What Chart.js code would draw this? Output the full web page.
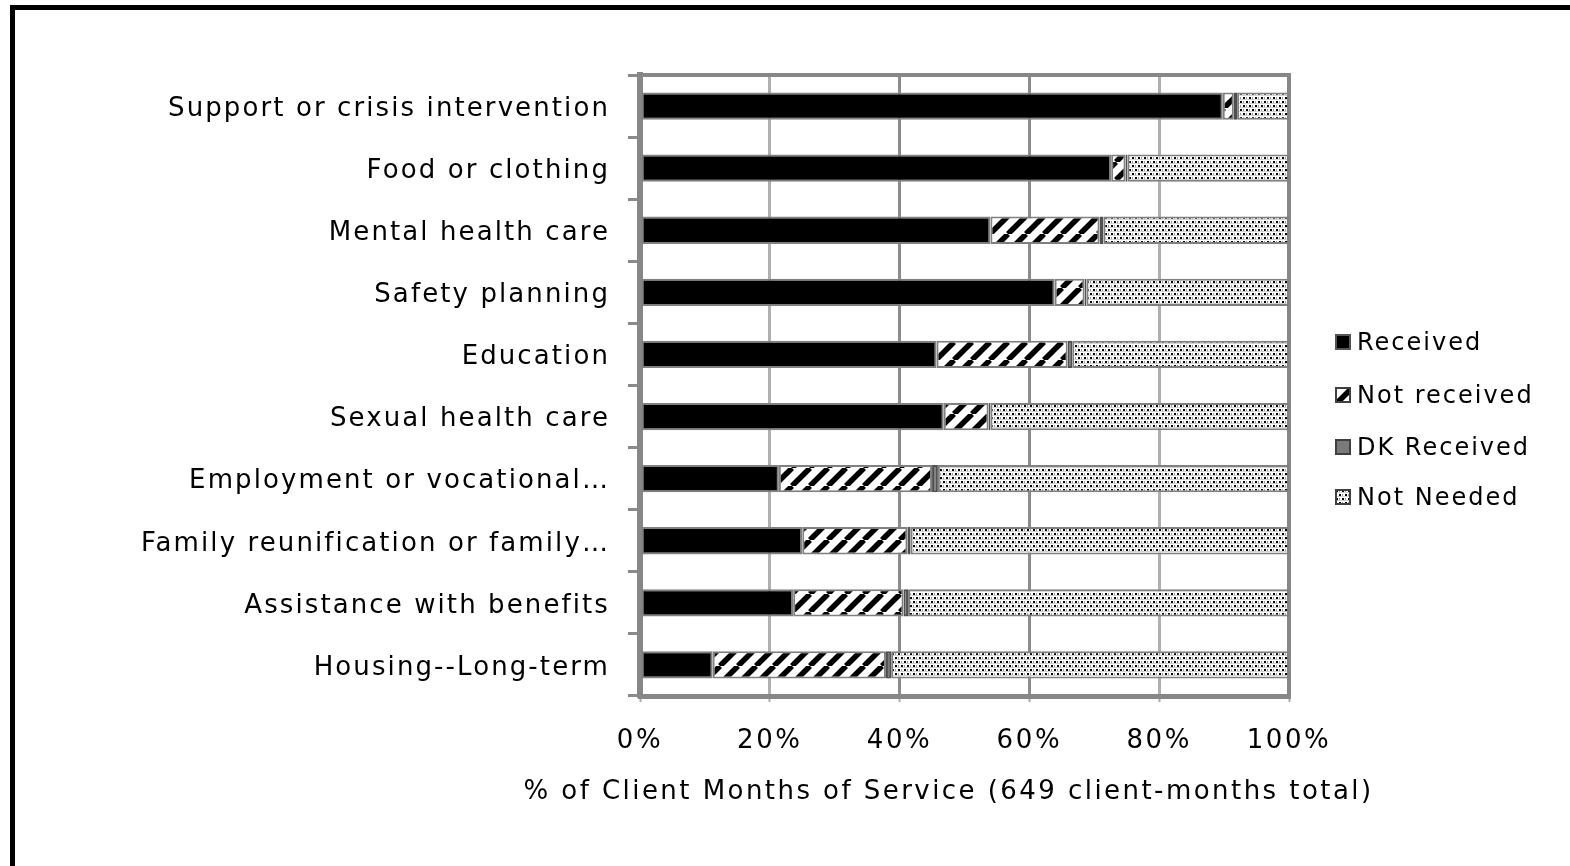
<!DOCTYPE html>
<html>
<head>
<meta charset="utf-8">
<script src="https://cdn.jsdelivr.net/npm/chart.js@4.4.1/dist/chart.umd.min.js"></script>
<style>
  html, body { margin: 0; padding: 0; background: #fff; overflow: hidden; }
  #wrap { position: relative; width: 1570px; height: 866px; }
  #frame { position: absolute; left: 10px; top: 5px; width: 3000px; height: 3000px;
           border-left: 5px solid #000; border-top: 5px solid #000; box-sizing: border-box; pointer-events: none; }
  #legend { position: absolute; left: 1335px; top: 0; font-family: "DejaVu Sans", Verdana, sans-serif; font-size: 24px; letter-spacing: 2px; color: #000; }
  .li { position: absolute; left: 0; white-space: nowrap; display: flex; align-items: center; height: 30px; }
  .li canvas { width: 16px; height: 16px; margin-right: 6px; }
</style>
</head>
<body>
<div id="wrap">
  <canvas id="c" width="1570" height="866"></canvas>
  <div id="frame"></div>
  <div id="legend"></div>
</div>
<script>
const categories = [
  "Support or crisis intervention",
  "Food or clothing",
  "Mental health care",
  "Safety planning",
  "Education",
  "Sexual health care",
  "Employment or vocational\u2026",
  "Family reunification or family\u2026",
  "Assistance with benefits",
  "Housing--Long-term"
];
const seriesNames = ["Received", "Not received", "DK Received", "Not Needed"];
const received    = [89.8, 72.6, 54.0, 63.9, 45.7, 46.8, 21.4, 25.0, 23.6, 11.2];
const notReceived = [ 1.7,  2.2, 16.8,  4.6, 20.2,  6.9, 23.6, 16.2, 17.0, 26.7];
const dkReceived  = [ 0.5,  0.3,  0.6,  0.3,  0.7,  0.3,  0.9,  0.5,  0.7,  0.8];
const notNeeded   = [ 8.0, 24.9, 28.6, 31.2, 33.4, 46.0, 54.1, 58.3, 58.7, 61.3];
const xTicks = [0, 20, 40, 60, 80, 100];
const xTitle = "% of Client Months of Service (649 client-months total)";

const FONT = '"DejaVu Sans", Verdana, sans-serif';

function stripeTile() {
  const c = document.createElement('canvas'); c.width = 18; c.height = 18;
  const g = c.getContext('2d');
  g.fillStyle = '#fff'; g.fillRect(0, 0, 18, 18);
  g.strokeStyle = '#000'; g.lineWidth = 5.5;
  for (const o of [-18, 0, 18]) {
    g.beginPath(); g.moveTo(o, 18); g.lineTo(o + 18, 0); g.stroke();
  }
  return c;
}
function dotTile() {
  const c = document.createElement('canvas'); c.width = 6; c.height = 8;
  const g = c.getContext('2d');
  g.fillStyle = '#fff'; g.fillRect(0, 0, 6, 8);
  g.fillStyle = '#000';
  g.fillRect(1, 1, 2, 2);
  g.fillRect(4, 5, 2, 2);
  g.fillStyle = '#9a9a9a';
  g.fillRect(4, 1, 1, 2);
  g.fillRect(1, 5, 1, 2);
  g.fillStyle = '#d4d4d4';
  g.fillRect(0, 3, 6, 1);
  g.fillRect(0, 7, 6, 1);
  return c;
}
const ctx = document.getElementById('c').getContext('2d');
const stripePat = ctx.createPattern(stripeTile(), 'repeat');
const dotPat = ctx.createPattern(dotTile(), 'repeat');

const fills = ['#000000', stripePat, '#7a7a7a', dotPat];
const borders = ['#808080', '#808080', '#505050', '#808080'];
const dataArr = [received, notReceived, dkReceived, notNeeded];

function spaced(scale, name, sp, widen) {
  const orig = scale[name];
  if (!orig || orig.__sp) return;
  const f = function (...a) {
    const c = this.ctx; const prev = c.letterSpacing;
    const L = this.left, R = this.right;
    if (widen) { this.left = L - widen[0]; this.right = R + widen[1]; }
    c.letterSpacing = sp;
    try { return orig.apply(this, a); }
    finally { c.letterSpacing = prev; this.left = L; this.right = R; }
  };
  f.__sp = true;
  scale[name] = f;
}

const spacingPlugin = {
  id: 'spacing',
  beforeDraw(chart) {
    spaced(chart.scales.y, 'drawLabels', '2.1px');
    spaced(chart.scales.x, 'drawLabels', '2.6px');
    spaced(chart.scales.x, 'drawTitle', '2.45px', [336, 304]);
  }
};

const plotBorder = {
  id: 'plotBorder',
  beforeDatasetsDraw(chart) {
    const a = chart.chartArea, c = chart.ctx;
    c.save();
    c.strokeStyle = '#878787'; c.lineWidth = 4;
    c.beginPath();
    c.moveTo(a.left, a.top); c.lineTo(a.right, a.top); c.lineTo(a.right, a.bottom);
    c.stroke();
    c.restore();
  }
};

new Chart(ctx, {
  type: 'bar',
  data: {
    labels: categories,
    datasets: seriesNames.map((n, i) => ({
      label: n,
      data: dataArr[i],
      backgroundColor: fills[i],
      borderColor: borders[i],
      borderWidth: 2,
      borderSkipped: false,
      categoryPercentage: 1.0,
      barPercentage: 0.44
    }))
  },
  options: {
    indexAxis: 'y',
    responsive: false,
    animation: false,
    devicePixelRatio: 1,
    layout: { padding: { left: 0, right: 281, top: 75, bottom: 58 } },
    plugins: { legend: { display: false }, tooltip: { enabled: false } },
    scales: {
      x: {
        stacked: true, min: 0, max: 100,
        afterBuildTicks(s) { s.ticks = xTicks.map(v => ({ value: v })); },
        afterFit(s) { s.height = 112; },
        ticks: { callback: v => v + '%', font: { family: FONT, size: 26 }, color: '#000', padding: 24, maxRotation: 0 },
        grid: {
          color: c => (c.tick && (c.tick.value === 40 || c.tick.value === 60)) ? '#8c8c8c' : '#b0b0b0',
          lineWidth: 3, tickLength: 6, tickColor: '#aaaaaa', tickWidth: 2
        },
        border: { display: true, color: '#878787', width: 5 },
        title: { display: true, text: xTitle, font: { family: FONT, size: 26 }, color: '#000', padding: { top: 0, bottom: 0 } }
      },
      y: {
        stacked: true,
        afterFit(s) { s.width = 640; },
        ticks: { font: { family: FONT, size: 26 }, color: '#000', padding: 18, autoSkip: false, labelOffset: 3 },
        grid: { drawOnChartArea: false, tickLength: 12, color: '#8a8a8a', lineWidth: 3, offset: true },
        border: { display: true, color: '#878787', width: 6 }
      }
    }
  },
  plugins: [spacingPlugin, plotBorder]
});

// HTML legend
const lg = document.getElementById('legend');
const legendY = [342, 395, 447, 497];
seriesNames.forEach((n, i) => {
  const d = document.createElement('div');
  d.className = 'li';
  d.style.top = (legendY[i] - 15) + 'px';
  const cv = document.createElement('canvas'); cv.width = 16; cv.height = 16;
  const g = cv.getContext('2d');
  g.fillStyle = (i === 1) ? g.createPattern(stripeTile(), 'repeat') : (i === 3 ? g.createPattern(dotTile(), 'repeat') : fills[i]);
  g.fillRect(0, 0, 16, 16);
  g.strokeStyle = i === 0 ? '#555' : '#404040'; g.lineWidth = 2; g.strokeRect(1, 1, 14, 14);
  d.appendChild(cv);
  const t = document.createElement('span'); t.textContent = n; d.appendChild(t);
  lg.appendChild(d);
});
</script>
</body>
</html>
